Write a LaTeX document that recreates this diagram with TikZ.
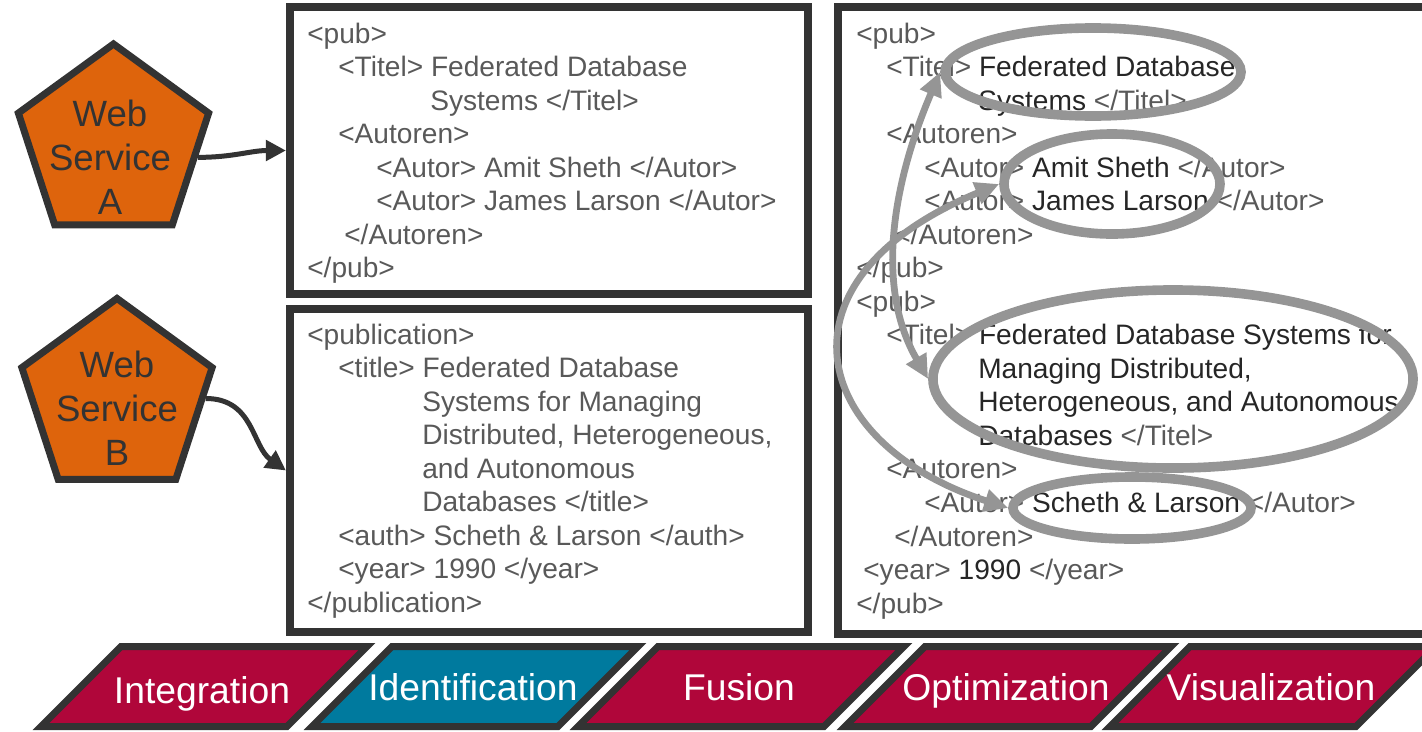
\documentclass[tikz,border=0pt]{standalone}
\usepackage{fontspec}
\setmainfont{Liberation Sans}
\usepackage{tikz}
\usetikzlibrary{shapes.geometric, arrows.meta}

\definecolor{framedark}{HTML}{333333}
\definecolor{taggray}{HTML}{595959}
\definecolor{valdark}{HTML}{262626}
\definecolor{wsorange}{HTML}{DE640C}
\definecolor{ringgray}{HTML}{959595}
\definecolor{stagered}{HTML}{B0063A}
\definecolor{stageteal}{HTML}{007A9E}

\newcommand{\xval}[1]{\textcolor{valdark}{#1}}

\tikzset{
  xmlbox/.style={draw=framedark, line width=0.2cm, inner sep=0pt},
  xmltag/.style={anchor=base west, inner sep=0pt, text=taggray, font=\fontsize{20}{24}\selectfont},
  wspent/.style={regular polygon, regular polygon sides=5, draw=framedark, fill=wsorange,
    line width=0.175cm, inner sep=0pt, minimum size=5cm},
  wstext/.style={align=center, text=framedark, font=\fontsize{26}{31.2}\selectfont},
  wsarrow/.style={draw=framedark, line width=0.125cm, -{Triangle[length=0.5cm,width=0.5cm]}},
  matchring/.style={ellipse, draw=ringgray, line width=0.24cm, inner sep=0pt},
  matcharrow/.style={draw=ringgray, line width=0.17cm,
    arrows={Triangle[length=0.6cm,width=0.55cm]-Triangle[length=0.6cm,width=0.55cm]}},
  stagebox/.style={draw=framedark, line width=0.175cm},
  stagetext/.style={anchor=base, text=white, font=\fontsize{26.5}{30}\selectfont},
}

\begin{document}
\begin{tikzpicture}[x=0.025cm, y=-0.025cm]
    \useasboundingbox (0,0) rectangle (1422,731);

    % web services
    \node[wspent] (wsA) at (113.5,144) {};
    \node[wspent] (wsB) at (117,398.5) {};
    \node[wstext] (wsAtext) at (110,157) {Web\\Service\\A};
    \node[wstext] (wsBtext) at (117,408) {Web\\Service\\B};

    % xml boxes
    \node[xmlbox, minimum width=12.95cm, minimum height=7.175cm] (boxA) at (549,150.5) {};
    \node[xmlbox, minimum width=12.95cm, minimum height=8.075cm] (boxB) at (549,470.5) {};
    \node[xmlbox, minimum width=15.05cm, minimum height=15.675cm] (boxM) at (1139,320.5) {};

    \draw[wsarrow] (wsA.-9) .. controls +(35,0) and +(-35,0) .. (boxA.west);
    \draw[wsarrow] (wsB.east) .. controls +(48,0) and +(-34,-24) .. (boxB.west);

    % source A
    \node[xmltag] (A1) at (307,43) {<pub>};
    \node[xmltag] (A2) at (338,76.5) {<Titel> Federated Database};
    \node[xmltag] (A3) at (430,110) {Systems </Titel>};
    \node[xmltag] (A4) at (338,143.6) {<Autoren>};
    \node[xmltag] (A5) at (376,177.1) {<Autor> Amit Sheth </Autor>};
    \node[xmltag] (A6) at (376,210.7) {<Autor> James Larson </Autor>};
    \node[xmltag] (A7) at (344,244.2) {</Autoren>};
    \node[xmltag] (A8) at (307,277.7) {</pub>};

    % source B
    \node[xmltag] (B1) at (307,344) {<publication>};
    \node[xmltag] (B2) at (338,377.5) {<title> Federated Database};
    \node[xmltag] (B3) at (422,411) {Systems for Managing};
    \node[xmltag] (B4) at (422,444.6) {Distributed, Heterogeneous,};
    \node[xmltag] (B5) at (422,478.1) {and Autonomous};
    \node[xmltag] (B6) at (422,511.7) {Databases </title>};
    \node[xmltag] (B7) at (338,545.2) {<auth> Scheth \& Larson </auth>};
    \node[xmltag] (B8) at (338,578.7) {<year> 1990 </year>};
    \node[xmltag] (B9) at (307,612.2) {</publication>};

    % merged
    \node[xmltag] (M1) at (856,43) {<pub>};
    \node[xmltag] (M2) at (886,76.5) {<Titel> \xval{Federated Database}};
    \node[xmltag] (M3) at (978,110) {\xval{Systems} </Titel>};
    \node[xmltag] (M4) at (886,143.6) {<Autoren>};
    \node[xmltag] (M5) at (924,177.1) {<Autor> \xval{Amit Sheth} </Autor>};
    \node[xmltag] (M6) at (924,210.7) {<Autor> \xval{James Larson} </Autor>};
    \node[xmltag] (M7) at (894,244.2) {</Autoren>};
    \node[xmltag] (M8) at (856,277.7) {</pub>};
    \node[xmltag] (M9) at (856,311.2) {<pub>};
    \node[xmltag] (M10) at (886,344.8) {<Titel> \xval{Federated Database Systems for}};
    \node[xmltag] (M11) at (978,378.3) {\xval{Managing Distributed,}};
    \node[xmltag] (M12) at (978,411.8) {\xval{Heterogeneous, and Autonomous}};
    \node[xmltag] (M13) at (978,445.4) {\xval{Databases} </Titel>};
    \node[xmltag] (M14) at (886,478.9) {<Autoren>};
    \node[xmltag] (M15) at (924,512.4) {<Autor> \xval{Scheth \& Larson} </Autor>};
    \node[xmltag] (M16) at (894,546) {</Autoren>};
    \node[xmltag] (M17) at (863,579.5) {<year> \xval{1990} </year>};
    \node[xmltag] (M18) at (856,613) {</pub>};

    % matches
    \node[matchring, minimum width=7.4cm, minimum height=2.2cm] (E1) at (1093,72) {};
    \node[matchring, minimum width=5.4cm, minimum height=2.5cm] (E2) at (1112,184) {};
    \node[matchring, minimum width=12cm, minimum height=4.45cm] (E3) at (1173,379) {};
    \node[matchring, minimum width=5.95cm, minimum height=1.55cm] (E4) at (1132,508) {};

    \draw[matcharrow] (E1.west) .. controls +(-45,105) and +(-55,-95) .. (E3.west);
    \draw[matcharrow] (E2.west) .. controls +(-230,95) and +(-200,-65) .. (E4.west);

    % stages
    \draw[stagebox, fill=stagered] (41,726.5) -- ++(80,-80) -- ++(246,0) -- ++(-80,80) -- cycle;
    \draw[stagebox, fill=stageteal] (312,726.5) -- ++(80,-80) -- ++(246,0) -- ++(-80,80) -- cycle;
    \draw[stagebox, fill=stagered] (578,726.5) -- ++(80,-80) -- ++(246,0) -- ++(-80,80) -- cycle;
    \draw[stagebox, fill=stagered] (845,726.5) -- ++(80,-80) -- ++(246,0) -- ++(-80,80) -- cycle;
    \draw[stagebox, fill=stagered] (1110,726.5) -- ++(80,-80) -- ++(246,0) -- ++(-80,80) -- cycle;

    \node[stagetext] (integration) at (202,703) {Integration};
    \node[stagetext] (identification) at (473,700) {Identification};
    \node[stagetext] (fusion) at (739,700) {Fusion};
    \node[stagetext] (optimization) at (1006,700) {Optimization};
    \node[stagetext] (visualization) at (1271,700) {Visualization};
\end{tikzpicture}
\end{document}
